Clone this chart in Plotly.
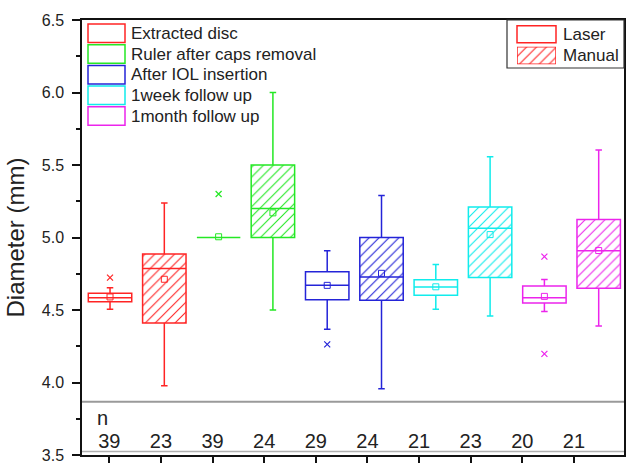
import plotly.graph_objects as go

# ---------------- data ----------------
groups = ["Extracted disc", "Ruler after caps removal", "After IOL insertion",
          "1week follow up", "1month follow up"]
methods = ["Laser", "Manual"]
group_colors = ["#ff2424", "#24e824", "#2424d8", "#10ecec", "#ec24ec"]

# boxes in order: (group1 Laser, group1 Manual, group2 Laser, ...)
q1 = [4.557, 4.410, 5.000, 5.000, 4.570, 4.567, 4.601, 4.725, 4.548, 4.650]
median = [4.585, 4.787, 5.000, 5.200, 4.670, 4.728, 4.659, 5.063, 4.585, 4.909]
q3 = [4.615, 4.886, 5.000, 5.500, 4.764, 5.000, 4.709, 5.210, 4.666, 5.125]
lower = [4.505, 3.978, 5.000, 4.500, 4.367, 3.957, 4.505, 4.459, 4.489, 4.390]
upper = [4.654, 5.238, 5.000, 6.000, 4.909, 5.289, 4.813, 5.557, 4.711, 5.603]
means = [4.590, 4.712, 5.005, 5.170, 4.670, 4.753, 4.660, 5.020, 4.594, 4.910]
outliers = [[4.723], [], [5.300], [], [4.263], [], [], [], [4.868, 4.197], []]
n_values = [39, 23, 39, 24, 29, 24, 21, 23, 20, 21]

# ---------------- geometry helpers (layout only) ----------------
W, H = 629, 463
ML, MR, MT, MB = 82, 5, 20, 8
PW, PH = W - ML - MR, H - MT - MB


def px(xp):
    return (xp - ML) / PW


def py(yp):
    return (H - MB - yp) / PH


positions = list(range(1, len(q1) + 1))
box_colors = [group_colors[i // 2] for i in range(len(q1))]
BOXW = 0.8

fig = go.Figure()

# hatched fill for Manual boxes (bars under the box outlines)
man_idx = [i for i in range(len(q1)) if i % 2 == 1]
fig.add_trace(go.Bar(
    x=[positions[i] for i in man_idx],
    base=[q1[i] for i in man_idx],
    y=[q3[i] - q1[i] for i in man_idx],
    width=BOXW,
    marker=dict(color=[box_colors[i] for i in man_idx],
                line=dict(width=0),
                pattern=dict(shape="/", size=7, solidity=0.16, fillmode="replace")),
    showlegend=False, hoverinfo="skip",
))

# box outlines
for g, col in enumerate(group_colors):
    idx = [2 * g, 2 * g + 1]
    fig.add_trace(go.Box(
        x=[positions[i] for i in idx],
        q1=[q1[i] for i in idx],
        median=[median[i] for i in idx],
        q3=[q3[i] for i in idx],
        lowerfence=[lower[i] for i in idx],
        upperfence=[upper[i] for i in idx],
        width=BOXW,
        whiskerwidth=0.15,
        boxpoints=False,
        fillcolor="rgba(0,0,0,0)",
        line=dict(color=col, width=1.5),
        name=groups[g],
        showlegend=False,
    ))

# mean markers
fig.add_trace(go.Scatter(
    x=positions, y=means, mode="markers",
    marker=dict(symbol="square-open", size=6, color=box_colors, line=dict(width=1)),
    showlegend=False, hoverinfo="y",
))

# outliers
ox, oy, oc = [], [], []
for i, pts in enumerate(outliers):
    for v in pts:
        ox.append(positions[i]); oy.append(v); oc.append(box_colors[i])
fig.add_trace(go.Scatter(
    x=ox, y=oy, mode="markers",
    marker=dict(symbol="x-thin-open", size=6, color=oc, line=dict(width=1.2, color=oc)),
    showlegend=False, hoverinfo="y",
))

# n row (on the table axis x2)
fig.add_trace(go.Scatter(
    x=positions, y=[3.583] * len(n_values), xaxis="x2", yaxis="y",
    mode="text", text=[str(v) for v in n_values],
    textfont=dict(family="Liberation Sans, Arial, sans-serif", size=20, color="#222"),
    showlegend=False, hoverinfo="skip",
))

# hatched swatch for "Manual" legend entry (tiny dedicated axes)
sw_x0, sw_x1 = 517, 556
fig.add_trace(go.Bar(
    x=[0], y=[1], width=1, xaxis="x3", yaxis="y3",
    marker=dict(color=group_colors[0],
                line=dict(color=group_colors[0], width=1.5),
                pattern=dict(shape="/", size=7, solidity=0.16, fillmode="replace")),
    showlegend=False, hoverinfo="skip",
))

shapes = []
annotations = []
FONT = "Liberation Sans, Arial, sans-serif"

# table separator lines
shapes.append(dict(type="line", xref="paper", yref="paper", x0=0, x1=1,
                   y0=py(401.7), y1=py(401.7), line=dict(color="#9a9a9a", width=2)))
shapes.append(dict(type="line", xref="paper", yref="paper", x0=0, x1=1,
                   y0=py(451.5), y1=py(451.5), line=dict(color="#b0b0b0", width=1.5)))

# legend 1 (groups)
for i, (name, col) in enumerate(zip(groups, group_colors)):
    top = 24 + i * 20.7
    shapes.append(dict(type="rect", xref="paper", yref="paper",
                       x0=px(88), x1=px(125), y0=py(top + 18.5), y1=py(top),
                       line=dict(color=col, width=1.5), fillcolor="rgba(0,0,0,0)"))
    annotations.append(dict(xref="paper", yref="paper", x=px(129), y=py(top + 9.5),
                            text=name, showarrow=False, xanchor="left", yanchor="middle",
                            font=dict(family=FONT, size=17, color="#222")))

# legend 2 (methods)
shapes.append(dict(type="rect", xref="paper", yref="paper",
                   x0=px(507), x1=px(624), y0=py(68), y1=py(20),
                   line=dict(color="#333", width=1.2), fillcolor="rgba(0,0,0,0)"))
shapes.append(dict(type="rect", xref="paper", yref="paper",
                   x0=px(sw_x0), x1=px(sw_x1), y0=py(42.7), y1=py(25.7),
                   line=dict(color=group_colors[0], width=1.5), fillcolor="rgba(0,0,0,0)"))
for j, (lab, yc) in enumerate(zip(methods, [34, 55.5])):
    annotations.append(dict(xref="paper", yref="paper", x=px(561), y=py(yc),
                            text=lab, showarrow=False, xanchor="left", yanchor="middle",
                            font=dict(family=FONT, size=17, color="#222")))

# "n" label
annotations.append(dict(xref="paper", yref="y", x=px(102.5), y=3.755, text="n",
                        showarrow=False, xanchor="center", yanchor="middle",
                        font=dict(family=FONT, size=20, color="#222")))

fig.update_layout(
    width=W, height=H,
    margin=dict(l=ML, r=MR, t=MT, b=MB, autoexpand=False),
    paper_bgcolor="white", plot_bgcolor="white",
    barmode="overlay", boxmode="overlay",
    showlegend=False,
    font=dict(family=FONT, color="#222"),
    xaxis=dict(range=[0.484, 10.466], showticklabels=False, ticks="",
               showgrid=False, zeroline=False, showline=True, mirror=True,
               linecolor="#111", linewidth=1.5, automargin=False),
    xaxis2=dict(overlaying="x", anchor="y", side="bottom", range=[0.47, 10.97],
                tickvals=positions, showticklabels=False, ticks="outside",
                ticklen=8, tickwidth=1.5, tickcolor="#111", automargin=False,
                showgrid=False, zeroline=False, showline=False),
    yaxis=dict(range=[3.5, 6.5], dtick=0.5, tick0=3.5, tickformat=".1f",
               ticks="outside", ticklen=8, tickwidth=1.5, tickcolor="#111",
               minor=dict(dtick=0.25, ticks="outside", ticklen=4, tickwidth=1.5,
                          tickcolor="#111", showgrid=False),
               showgrid=False, zeroline=False, showline=True, mirror=True,
               linecolor="#111", linewidth=1.5, automargin=False,
               ticklabeloverflow="allow",
               tickfont=dict(family=FONT, size=16, color="#222"),
               ticklabelstandoff=5,
               title=dict(text="Diameter (mm)", standoff=10,
                          font=dict(family=FONT, size=24, color="#222"))),
    xaxis3=dict(domain=[px(sw_x0), px(sw_x1)], anchor="y3", range=[-0.5, 0.5],
                visible=False, fixedrange=True),
    yaxis3=dict(domain=[py(64.3), py(46.7)], anchor="x3", range=[0, 1],
                visible=False, fixedrange=True),
    shapes=shapes,
    annotations=annotations,
)

fig.write_html(
    "out.html",
    config={"displayModeBar": False},
    post_script="document.body.style.margin='0px';document.body.style.padding='0px';",
)
